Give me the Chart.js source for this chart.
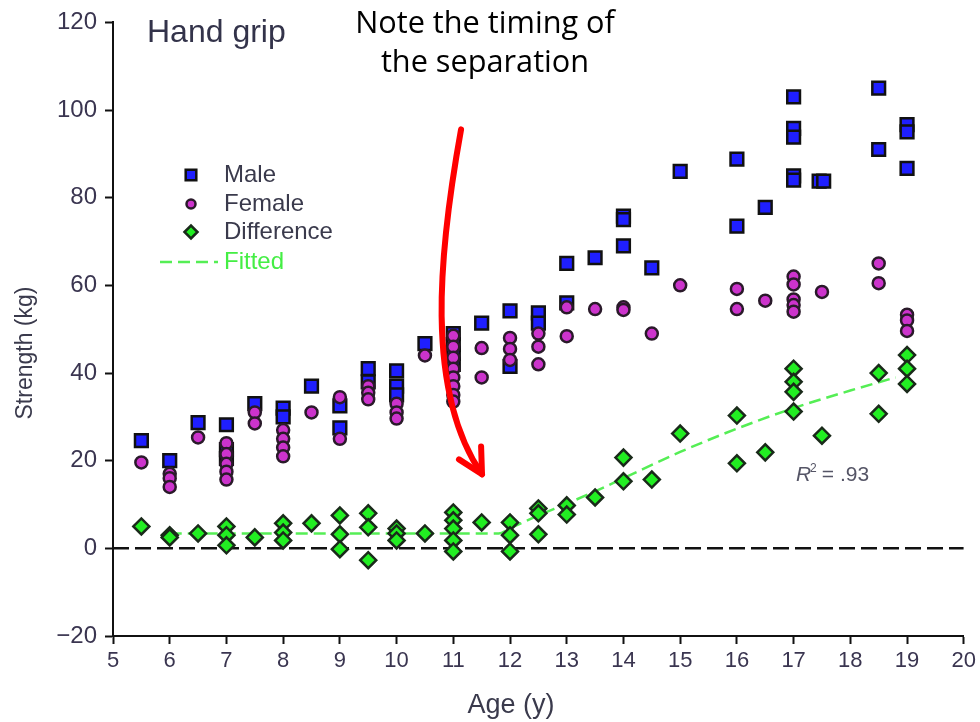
<!DOCTYPE html>
<html>
<head>
<meta charset="utf-8">
<script src="https://cdn.jsdelivr.net/npm/chart.js@4.4.1/dist/chart.umd.min.js"></script>
<style>
  body { margin: 0; background: #fff; }
  canvas { display: block; }
</style>
</head>
<body>
<canvas id="grip" width="980" height="722"></canvas>
<script>
// values (age in years, strength in kg)
var maleAge =      [5.5, 6, 6.5, 7, 7, 7, 7.5, 8, 8, 8.5, 9, 9, 9.5, 9.5, 10, 10, 10, 10.5, 11, 11, 11, 11, 11.5, 12, 12, 12.5, 12.5, 13, 13, 13.5, 14, 14, 14, 14.5, 15, 16, 16, 16.5, 17, 17, 17, 17, 17, 17.45, 17.53, 18.5, 18.5, 19, 19, 19];
var maleStrength = [24.6, 20, 28.7, 28.2, 22.5, 20.5, 33, 32, 30, 37, 32.5, 27.5, 41, 38, 40.5, 37, 35, 46.7, 49, 46.5, 44.5, 42, 51.4, 54.2, 41.5, 53.7, 51.4, 65, 56, 66.3, 75.8, 75, 69, 64, 86, 88.8, 73.5, 77.8, 103, 95.8, 93.8, 85, 84, 83.8, 83.8, 105, 91, 96.7, 95, 86.7];

var femaleAge =      [5.5, 6, 6, 6, 6.5, 7, 7, 7, 7, 7, 7.5, 7.5, 8, 8, 8, 8, 8.5, 9, 9, 9.5, 9.5, 9.5, 10, 10, 10, 10.5, 11, 11, 11, 11, 11, 11, 11, 11, 11.5, 11.5, 12, 12, 12, 12.5, 12.5, 12.5, 13, 13, 13.5, 14, 14, 14.5, 15, 16, 16, 16.5, 17, 17, 17, 17, 17, 17.5, 18.5, 18.5, 19, 19, 19];
var femaleStrength = [19.6, 17, 16, 14, 25.3, 24, 21.5, 19.3, 17.5, 15.7, 31, 28.5, 27, 25, 23, 21, 31, 34.5, 25, 37, 35.5, 34, 33, 31, 29.6, 44, 48.5, 46, 43.5, 41, 39, 37, 35, 33.5, 45.7, 39, 48, 45.5, 43, 49, 46, 42, 55, 48.4, 54.6, 55, 54.4, 49, 60, 59.2, 54.6, 56.5, 62, 60.2, 56.8, 55.5, 54, 58.5, 65, 60.5, 53.3, 52, 49.6];

var diffAge =   [5.5, 6, 6, 6.5, 7, 7, 7, 7.5, 8, 8, 8, 8.5, 9, 9, 9, 9.5, 9.5, 9.5, 10, 10, 10, 10.5, 11, 11, 11, 11, 11, 11.5, 12, 12, 12, 12.5, 12.5, 12.5, 13, 13, 13.5, 14, 14, 14.5, 15, 16, 16, 16.5, 17, 17, 17, 17, 17.5, 18.5, 18.5, 19, 19, 19];
var diffValue = [5, 3, 2.5, 3.4, 5, 3, 0.7, 2.5, 5.7, 3.6, 1.8, 5.7, 7.5, 3.2, -0.2, 8, 4.8, -2.7, 4.5, 3.4, 1.8, 3.4, 8.2, 6.4, 4.5, 1.8, -0.7, 5.9, 5.9, 3, -0.7, 9.1, 8, 3.2, 9.8, 7.7, 11.6, 20.7, 15.3, 15.7, 26.2, 30.3, 19.4, 21.9, 41, 38, 35.7, 31.2, 25.7, 40, 30.7, 44.1, 41, 37.5];

var fittedAge =   [6, 8, 10, 11.8, 12, 12.5, 13, 13.5, 14, 15, 16, 17, 18, 18.8];
var fittedValue = [3.4, 3.4, 3.4, 3.4, 4.6, 7.5, 10.2, 13, 16, 22, 27.3, 32, 36, 39];

var zeroAge = [5, 20];
var zeroValue = [0, 0];

var yTicks = [-20, 0, 20, 40, 60, 80, 100, 120];

function pts(xs, ys) {
    return xs.map(function (x, i) { return { x: x, y: ys[i] }; });
}

var sansFont = '"Liberation Sans", Arial, sans-serif';
var labelColor = '#3a3550';
var titleColor = '#3a3a4c';

var extras = {
    id: 'extras',
    afterDatasetsDraw: function (chart) {
        var c = chart.ctx;
        var xs = chart.scales.x, ys = chart.scales.y;
        var px = function (v) { return xs.getPixelForValue(v); };
        var py = function (v) { return ys.getPixelForValue(v); };
        c.save();

        // panel title
        c.fillStyle = '#33334a';
        c.font = '32px ' + sansFont;
        c.textBaseline = 'alphabetic';
        c.textAlign = 'left';
        c.fillText('Hand grip', 147, 42);

        // axis titles
        c.fillStyle = titleColor;
        c.font = '27px ' + sansFont;
        c.textAlign = 'center';
        c.fillText('Age (y)', 511, 713);
        c.save();
        c.translate(32, 353);
        c.rotate(-Math.PI / 2);
        c.font = '23px ' + sansFont;
        c.fillText('Strength (kg)', 0, 0);
        c.restore();
        c.textAlign = 'left';

        // legend
        var ds = chart.data.datasets;
        var rows = [
            { label: 'Male', d: ds[0], y: 175 },
            { label: 'Female', d: ds[1], y: 204 },
            { label: 'Difference', d: ds[2], y: 232 }
        ];
        rows.forEach(function (r) {
            c.fillStyle = r.d.backgroundColor;
            c.strokeStyle = r.d.borderColor;
            c.lineWidth = 2.5;
            Chart.helpers.drawPoint(c, { pointStyle: r.d.pointStyle, radius: r.d.pointRadius - 1.5, borderWidth: 2.5 }, 191, r.y);
            c.fillStyle = titleColor;
            c.font = '24px ' + sansFont;
            c.textBaseline = 'middle';
            c.fillText(r.label, 224, r.y);
        });
        c.strokeStyle = ds[3].borderColor;
        c.lineWidth = 2.5;
        c.setLineDash([12, 6]);
        c.beginPath();
        c.moveTo(160, 262);
        c.lineTo(218, 262);
        c.stroke();
        c.setLineDash([]);
        c.fillStyle = '#44ee44';
        c.fillText('Fitted', 224, 262);

        // R squared
        c.fillStyle = '#555566';
        c.textBaseline = 'alphabetic';
        c.font = 'italic 21px ' + sansFont;
        c.fillText('R', 796, 481);
        c.font = '12px ' + sansFont;
        c.fillText('2', 810, 472);
        c.font = '21px ' + sansFont;
        c.fillText(' = .93', 816, 481);

        // note
        c.fillStyle = '#000';
        c.textAlign = 'center';
        c.font = '26px "Open Sans", sans-serif';
        var w = c.measureText('Note the timing of').width;
        c.font = (26 * 260 / w).toFixed(1) + 'px "Open Sans", sans-serif';
        c.fillText('Note the timing of', 485, 33);
        c.fillText('the separation', 485, 72);

        // red arrow
        c.strokeStyle = '#ff0000';
        c.lineWidth = 6;
        c.lineCap = 'round';
        c.lineJoin = 'round';
        c.beginPath();
        c.moveTo(px(11.137), py(95.6));
        c.bezierCurveTo(px(10.75), py(67.9), px(10.486), py(36.0), px(11.506), py(16.9));
        c.stroke();
        c.beginPath();
        c.moveTo(px(11.10), py(20.3));
        c.lineTo(px(11.506), py(16.9));
        c.lineTo(px(11.49), py(23.25));
        c.stroke();

        c.restore();
    }
};

new Chart(document.getElementById('grip'), {
    type: 'scatter',
    data: {
        datasets: [
            {
                label: 'Male',
                data: pts(maleAge, maleStrength),
                pointStyle: 'rect',
                pointRadius: 9,
                backgroundColor: '#1f1fff',
                borderColor: '#111',
                borderWidth: 2.5,
                order: 3
            },
            {
                label: 'Female',
                data: pts(femaleAge, femaleStrength),
                pointStyle: 'circle',
                pointRadius: 6,
                backgroundColor: '#cc33cc',
                borderColor: '#2a1a2a',
                borderWidth: 2.5,
                order: 2
            },
            {
                label: 'Difference',
                data: pts(diffAge, diffValue),
                pointStyle: 'rectRot',
                pointRadius: 8,
                backgroundColor: '#22ee22',
                borderColor: '#1a2a1a',
                borderWidth: 2.5,
                order: 1
            },
            {
                type: 'line',
                label: 'Fitted',
                data: pts(fittedAge, fittedValue),
                borderColor: '#55ee55',
                borderWidth: 2.5,
                borderDash: [12, 6],
                pointRadius: 0,
                cubicInterpolationMode: 'monotone',
                order: 5
            },
            {
                type: 'line',
                label: 'zero',
                data: pts(zeroAge, zeroValue),
                borderColor: '#111',
                borderWidth: 2.5,
                borderDash: [16, 6],
                pointRadius: 0,
                order: 6
            }
        ]
    },
    options: {
        responsive: false,
        animation: false,
        devicePixelRatio: 1,
        layout: { padding: { left: 0, top: 21, right: 14, bottom: 0 } },
        plugins: { legend: { display: false }, tooltip: { enabled: false } },
        scales: {
            x: {
                type: 'linear',
                min: 5,
                max: 20,
                afterFit: function (s) { s.height = 86; },
                ticks: { stepSize: 1, autoSkip: false, maxRotation: 0, padding: 4, color: labelColor, font: { family: sansFont, size: 22 } },
                grid: { drawOnChartArea: false, drawTicks: true, tickLength: 8, tickColor: '#111', tickWidth: 2 },
                border: { color: '#111', width: 2 }
            },
            y: {
                min: -20,
                max: 120,
                afterFit: function (s) { s.width = 113; },
                afterBuildTicks: function (s) { s.ticks = yTicks.map(function (v) { return { value: v }; }); },
                ticks: {
                    padding: 8, color: labelColor, font: { family: sansFont, size: 24 },
                    callback: function (v) { return v < 0 ? '\u2212' + Math.abs(v) : String(v); }
                },
                grid: { drawOnChartArea: false, drawTicks: true, tickLength: 8, tickColor: '#111', tickWidth: 2 },
                border: { color: '#111', width: 2 }
            }
        }
    },
    plugins: [extras]
});
</script>
</body>
</html>
